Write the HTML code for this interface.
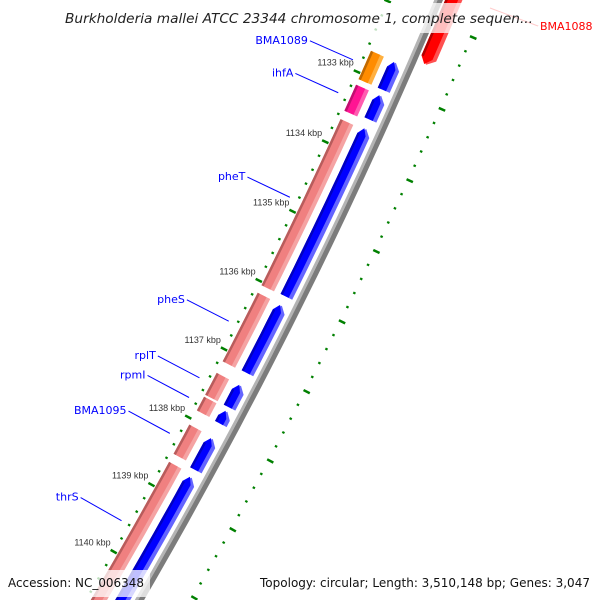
<!DOCTYPE html>
<html><head><meta charset="utf-8"><style>
html,body{margin:0;padding:0;background:#fff;width:600px;height:600px;overflow:hidden;}
svg{display:block;overflow:hidden;}
</style></head><body>
<svg id="map" width="600" height="600" viewBox="0 0 600 600" xmlns="http://www.w3.org/2000/svg">
<rect width="600" height="600" fill="#fff"/>
<g id="ticks"></g>
<g id="feats"></g>
<g id="labels"></g>
<line x1="490" y1="8" x2="538" y2="26" stroke="#ff3030" stroke-width="1"/>
<text x="540" y="30" font-family="DejaVu Sans, sans-serif" font-size="11" fill="#ff0000">BMA1088</text>
<rect x="60" y="3" width="478" height="30" fill="#fff" fill-opacity="0.75"/>
<text x="299" y="23" text-anchor="middle" font-family="DejaVu Sans, sans-serif" font-style="italic" font-size="13" textLength="468" lengthAdjust="spacingAndGlyphs" fill="#222">Burkholderia mallei ATCC 23344 chromosome 1, complete sequen...</text>
<rect x="4" y="570" width="146" height="27" fill="#fff" fill-opacity="0.75"/>
<text x="8" y="587" font-family="DejaVu Sans, sans-serif" font-size="12" textLength="136" lengthAdjust="spacingAndGlyphs" fill="#111">Accession: NC_006348</text>
<rect x="255" y="570" width="341" height="27" fill="#fff" fill-opacity="0.75"/>
<text x="260" y="587" font-family="DejaVu Sans, sans-serif" font-size="12" textLength="330" lengthAdjust="spacingAndGlyphs" fill="#111">Topology: circular; Length: 3,510,148 bp; Genes: 3,047</text>
</svg>
<script>
// data (kbp)
const majorTicks = [1132, 1133, 1134, 1135, 1136, 1137, 1138, 1139, 1140, 1141];
const tickLabels = ["1132 kbp","1133 kbp","1134 kbp","1135 kbp","1136 kbp","1137 kbp","1138 kbp","1139 kbp","1140 kbp","1141 kbp"];
const innerStarts = [1132.68, 1133.16, 1133.65, 1136.15, 1137.32, 1137.67, 1138.08, 1138.63];
const innerEnds   = [1133.08, 1133.53, 1136.04, 1137.15, 1137.64, 1137.87, 1138.51, 1141.6];
const innerKinds  = ["orange", "magenta", "pink", "pink", "pink", "pink", "pink", "pink"];
const blueStarts = [1132.69, 1133.16, 1133.63, 1136.16, 1137.32, 1137.70, 1138.10, 1138.67];
const blueEnds   = [1133.08, 1133.50, 1136.03, 1137.14, 1137.64, 1137.88, 1138.56, 1141.6];
const redStarts = [1129.5];
const redEnds   = [1132.56];
const geneNames = ["BMA1089", "ihfA", "pheT", "pheS", "rplT", "rpmI", "BMA1095", "thrS"];
const genePos   = [1132.88, 1133.35, 1134.85, 1136.65, 1137.48, 1137.77, 1138.30, 1139.60];

const NS = "http://www.w3.org/2000/svg";
const OX = -4406, OY = -2041, R0 = 5257, TH0 = 23.92, DEG = 0.8457;
function pt(s, off) {
  const th = (TH0 + (s - 1133) * DEG) * Math.PI / 180;
  const r = R0 + off;
  return [OX + r * Math.cos(th), OY + r * Math.sin(th)];
}
function mk(tag, attrs, parent) {
  const el = document.createElementNS(NS, tag);
  for (const k in attrs) el.setAttribute(k, attrs[k]);
  parent.appendChild(el);
  return el;
}
function arc(s1, s2, off) {
  const pts = [];
  const n = Math.max(2, Math.ceil(Math.abs(s2 - s1) / 0.2) + 1);
  for (let i = 0; i < n; i++) pts.push(pt(s1 + (s2 - s1) * i / (n - 1), off));
  return pts;
}
function band(s1, s2, r1, r2, headStart, headEnd) {
  const h = 0.09;
  let a = s1, b = s2;
  const pts = [];
  if (headStart) a = s1 + h;
  if (headEnd) b = s2 - h;
  if (headStart) pts.push(pt(s1, (r1 + r2) / 2));
  pts.push(...arc(a, b, r2));
  if (headEnd) pts.push(pt(s2, (r1 + r2) / 2));
  pts.push(...arc(b, a, r1));
  return pts.map(p => p[0].toFixed(1) + "," + p[1].toFixed(1)).join(" ");
}
const tg = document.getElementById("ticks");
const fg = document.getElementById("feats");
const lg = document.getElementById("labels");

for (let i = 0; i < majorTicks.length; i++) {
  const s = majorTicks[i];
  const a = pt(s, -50), b = pt(s, -43);
  const t = mk("line", {x1: a[0], y1: a[1], x2: b[0], y2: b[1], stroke: "#008000", "stroke-width": 2.5}, tg);
  
  
  const c = pt(s, 43), d = pt(s, 50);
  const t2 = mk("line", {x1: c[0], y1: c[1], x2: d[0], y2: d[1], stroke: "#008000", "stroke-width": 2.5}, tg);
  
  
  const lab = mk("text", {x: a[0].toFixed(1), y: (a[1] - 4.5).toFixed(1), "text-anchor": "end", "font-family": "Liberation Sans, sans-serif", "font-size": 9, fill: "#333"}, tg);
  lab.textContent = tickLabels[i];
  
  
  for (let k = 1; k < 5; k++) {
    const sm = s + k * 0.2;
    const p = pt(sm, -47.5), q = pt(sm, -45);
    const m1 = mk("line", {x1: p[0], y1: p[1], x2: q[0], y2: q[1], stroke: "#008000", "stroke-width": 2.2}, tg);
    
    
    const p2 = pt(sm, 43.5), q2 = pt(sm, 46);
    const m2 = mk("line", {x1: p2[0], y1: p2[1], x2: q2[0], y2: q2[1], stroke: "#008000", "stroke-width": 2.2}, tg);
    
    
  }
}

{
  const g1 = mk("polygon", {points: band(1131, 1142, -4, -1), fill: "#b4b4b4"}, fg);
  
  
  const g2 = mk("polygon", {points: band(1131, 1142, -1, 4), fill: "#7c7c7c"}, fg);
  
  
}

const palettes = {
  pink: ["#f5a3a3", "#f08080", "#b85c5c"],
  orange: ["#ffb040", "#ff8c00", "#c06800"],
  magenta: ["#ff5cb0", "#ff1493", "#c00f70"],
  blue: ["#6464ff", "#0000ff", "#0000c0"],
  red: ["#ff5050", "#ff0000", "#b00000"]
};
function feature(s1, s2, r1, r2, pal, hs, he, name) {
  const c = palettes[pal];
  const a = mk("polygon", {points: band(s1, s2, r1, r2, hs, he), fill: c[0]}, fg);
  
  
  const b = mk("polygon", {points: band(s1, s2, r1, r2 - 4, hs, he), fill: c[1]}, fg);
  
  
  const d = mk("polygon", {points: band(s1 + (hs ? 0.09 : 0), s2 - (he ? 0.09 : 0), r1, r1 + 2.5, false, false), fill: c[2]}, fg);
  
  
}
for (let i = 0; i < innerStarts.length; i++) feature(innerStarts[i], innerEnds[i], -42, -28, innerKinds[i], false, false, 'inner-feature');
for (let i = 0; i < blueStarts.length; i++) feature(blueStarts[i], blueEnds[i], -21, -8, "blue", true, false, 'reverse-feature');
for (let i = 0; i < redStarts.length; i++) feature(redStarts[i], redEnds[i], 6, 22, "red", false, true, 'forward-feature');

for (let i = 0; i < geneNames.length; i++) {
  const a = pt(genePos[i], -55), b = pt(genePos[i], -102);
  const ln = mk("line", {x1: a[0], y1: a[1], x2: b[0], y2: b[1], stroke: "#0000ff", "stroke-width": 1}, lg);
  
  
  const tx = mk("text", {x: (b[0] - 2).toFixed(1), y: (b[1] + 3).toFixed(1), "text-anchor": "end", "font-family": "DejaVu Sans, sans-serif", "font-size": 11, fill: "#0000ff"}, lg);
  tx.textContent = geneNames[i];
  
  
}
</script>
</body></html>
